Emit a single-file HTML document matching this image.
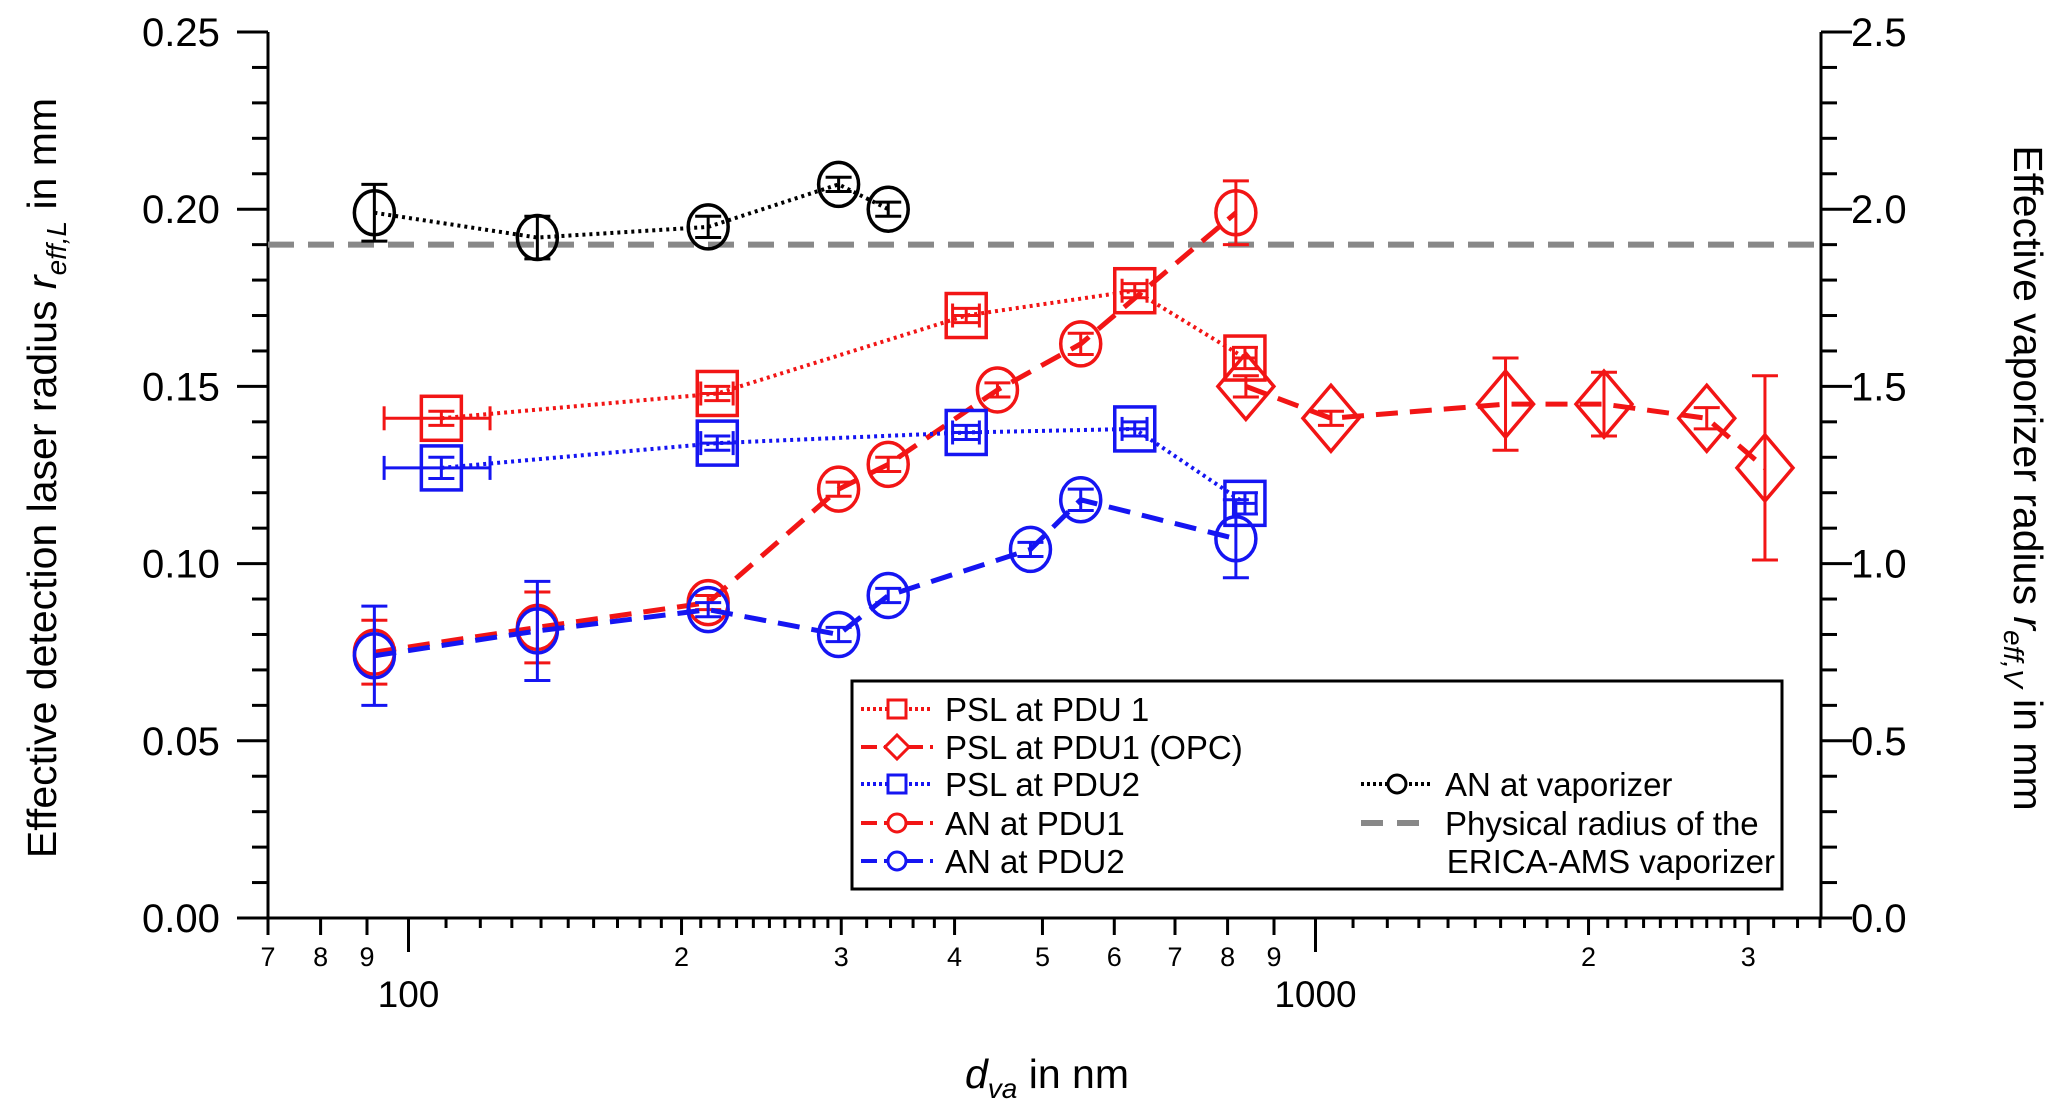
<!DOCTYPE html>
<html><head><meta charset="utf-8">
<style>
html,body{margin:0;padding:0;background:#fff;}
svg{display:block;font-family:"Liberation Sans",Arial,sans-serif;}
</style></head>
<body>
<svg id="chart" width="2067" height="1111" viewBox="0 0 2067 1111" xmlns="http://www.w3.org/2000/svg">
<g id="axes"></g>
<g id="series"></g>
<g id="legend"></g>
</svg>
<script>
// ---- data ----
const anVapX = [91.7, 138.7, 214, 298, 338];
const anVapY = [0.199, 0.192, 0.195, 0.207, 0.200];
const anVapErr = [0.008, 0.006, 0.003, 0.002, 0.002];

const psl1X = [108.7, 219, 412, 632, 836];
const psl1Y = [0.141, 0.148, 0.170, 0.177, 0.158];
const psl1Err = [0.002, 0.002, 0.002, 0.002, 0.003];
const psl1XLo = [94, 210, 398, 612, 812];
const psl1XHi = [123, 228, 426, 652, 860];

const opcX = [838, 1040, 1620, 2080, 2700, 3130];
const opcY = [0.150, 0.141, 0.145, 0.145, 0.141, 0.127];
const opcErr = [0.003, 0.002, 0.013, 0.009, 0.003, 0.026];

const psl2X = [108.7, 219, 412, 632, 836];
const psl2Y = [0.127, 0.134, 0.137, 0.138, 0.117];
const psl2Err = [0.003, 0.002, 0.002, 0.002, 0.003];
const psl2XLo = [94, 210, 398, 612, 812];
const psl2XHi = [123, 228, 426, 652, 860];

const an1X = [91.7, 138.7, 214, 298, 338, 446, 551, 817];
const an1Y = [0.075, 0.082, 0.089, 0.121, 0.128, 0.149, 0.162, 0.199];
const an1Err = [0.009, 0.010, 0.002, 0.002, 0.002, 0.002, 0.003, 0.009];

const an2X = [91.7, 138.7, 214, 298, 338, 485, 551, 817];
const an2Y = [0.074, 0.081, 0.087, 0.080, 0.091, 0.104, 0.118, 0.107];
const an2Err = [0.014, 0.014, 0.002, 0.002, 0.002, 0.002, 0.003, 0.011];

const physRadius = [0.19];
const yLeftTicks = ["0.00","0.05","0.10","0.15","0.20","0.25"];
const yRightTicks = ["0.0","0.5","1.0","1.5","2.0","2.5"];

// ---- scales ----
const X0 = 268, DEC = 907, XMIN = 70, XR = 1821;
const YT = 32, YB = 918;
function sx(v){ return X0 + DEC*Math.log10(v/XMIN); }
function sy(v){ return YB - (v/0.25)*(YB-YT); }

const NS = "http://www.w3.org/2000/svg";
function mk(parent, tag, attrs){
  const e = document.createElementNS(NS, tag);
  for (const k in attrs) e.setAttribute(k, attrs[k]);
  parent.appendChild(e); return e;
}
const axes = document.getElementById('axes');
const series = document.getElementById('series');
const legend = document.getElementById('legend');

let e;
e = mk(axes,'line',{x1:X0,y1:YT,x2:X0,y2:YB+1.5,stroke:'#000','stroke-width':3});
 
e = mk(axes,'line',{x1:XR,y1:YT,x2:XR,y2:YB+1.5,stroke:'#000','stroke-width':3});
 
e = mk(axes,'line',{x1:X0-1.5,y1:YB,x2:XR+1.5,y2:YB,stroke:'#000','stroke-width':3});
 

for (let i=0;i<=25;i++){
  const v = i*0.01, y = sy(v), major = (i%5===0);
  const L = major?31:16;
  mk(axes,'line',{x1:X0-L,y1:y,x2:X0,y2:y,stroke:'#000','stroke-width':3});
  mk(axes,'line',{x1:XR,y1:y,x2:XR+L,y2:y,stroke:'#000','stroke-width':3});
  if (major){
    e = mk(axes,'text',{x:142,y:y+14,'font-size':40,'text-anchor':'start'});
    e.textContent = yLeftTicks[i/5];
     
    e = mk(axes,'text',{x:1851,y:y+14,'font-size':40,'text-anchor':'start'});
    e.textContent = yRightTicks[i/5];
     
  }
}
function xt(v,L){ const x=sx(v); if(x<X0-1||x>XR+1) return x; mk(axes,'line',{x1:x,y1:YB,x2:x,y2:YB+L,stroke:'#000','stroke-width':3}); return x; }
[7,8,9].forEach(d=>{ const x=xt(d*10,17); e=mk(axes,'text',{x:x,y:966,'font-size':27,'text-anchor':'middle'}); e.textContent=d;   });
[100,1000].forEach(base=>{
  const x = xt(base,34);
  e=mk(axes,'text',{x:x,y:1007,'font-size':37,'text-anchor':'middle'}); e.textContent=String(base);
   
  for (let d=2; d<=9; d++){
    const xx = xt(base*d,17);
    if (xx<=XR){ e=mk(axes,'text',{x:xx,y:966,'font-size':27,'text-anchor':'middle'}); e.textContent=d;   }
  }
  for (let k=11;k<=29;k++){ if(k%10===0) continue; xt(base*k/10,10); }
  for (let k=32;k<=38;k+=2){ xt(base*k/10,10); }
});

e = mk(axes,'text',{transform:'translate(56,478) rotate(-90)','font-size':41,'text-anchor':'middle'});
e.innerHTML = 'Effective detection laser radius <tspan font-style="italic">r</tspan><tspan font-style="italic" font-size="28" dy="10">eff,L</tspan><tspan dy="-10"> in mm</tspan>';
 
e = mk(axes,'text',{transform:'translate(2014,478) rotate(90)','font-size':41,'text-anchor':'middle'});
e.innerHTML = 'Effective vaporizer radius <tspan font-style="italic">r</tspan><tspan font-style="italic" font-size="28" dy="10">eff,V</tspan><tspan dy="-10"> in mm</tspan>';
 
e = mk(axes,'text',{x:1047,y:1088,'font-size':41,'text-anchor':'middle'});
e.innerHTML = '<tspan font-style="italic">d</tspan><tspan font-style="italic" font-size="28" dy="10">va</tspan><tspan dy="-10"> in nm</tspan>';
 

e = mk(series,'line',{x1:X0,y1:sy(physRadius[0]),x2:XR,y2:sy(physRadius[0]),stroke:'#888','stroke-width':6,'stroke-dasharray':'26 14'});
 

function marker(g,type,x,y,col){
  if(type==='circle') return mk(g,'ellipse',{cx:x,cy:y,rx:20,ry:22,fill:'none',stroke:col,'stroke-width':3.5});
  if(type==='square') return mk(g,'rect',{x:x-20,y:y-22,width:40,height:44,fill:'none',stroke:col,'stroke-width':3.5});
  return mk(g,'polygon',{points:`${x},${y-33} ${x+28},${y} ${x},${y+33} ${x-28},${y}`,fill:'none',stroke:col,'stroke-width':3.5});
}
function drawSeries(name,X,Y,Err,col,dash,type,xlo,xhi){
  const g = mk(series,'g',{});
   
  const pts = X.map((v,i)=>sx(v)+','+sy(Y[i])).join(' ');
  const ln = mk(g,'polyline',{points:pts,fill:'none',stroke:col,'stroke-width':dash==='dot'?4:5,'stroke-dasharray':dash==='dot'?'3 4':'22 12'});
   
  X.forEach((v,i)=>{
    const x=sx(v), y=sy(Y[i]), y1=sy(Y[i]+Err[i]), y2=sy(Y[i]-Err[i]);
    mk(g,'line',{x1:x,y1:y1,x2:x,y2:y2,stroke:col,'stroke-width':3});
    mk(g,'line',{x1:x-13,y1:y1,x2:x+13,y2:y1,stroke:col,'stroke-width':3});
    mk(g,'line',{x1:x-13,y1:y2,x2:x+13,y2:y2,stroke:col,'stroke-width':3});
    if(xlo){
      const a=sx(xlo[i]), b=sx(xhi[i]);
      mk(g,'line',{x1:a,y1:y,x2:b,y2:y,stroke:col,'stroke-width':3});
      mk(g,'line',{x1:a,y1:y-12,x2:a,y2:y+12,stroke:col,'stroke-width':3});
      mk(g,'line',{x1:b,y1:y-12,x2:b,y2:y+12,stroke:col,'stroke-width':3});
    }
    const m = marker(g,type,x,y,col);
     
  });
}
const RED='#f21515', BLUE='#1515f2';
drawSeries('an-pdu1',an1X,an1Y,an1Err,RED,'dash','circle');
drawSeries('an-pdu2',an2X,an2Y,an2Err,BLUE,'dash','circle');
drawSeries('psl-pdu1',psl1X,psl1Y,psl1Err,RED,'dot','square',psl1XLo,psl1XHi);
drawSeries('psl-pdu2',psl2X,psl2Y,psl2Err,BLUE,'dot','square',psl2XLo,psl2XHi);
drawSeries('psl-pdu1-opc',opcX,opcY,opcErr,RED,'dash','diamond');
drawSeries('an-vaporizer',anVapX,anVapY,anVapErr,'#000','dot','circle');

e = mk(legend,'rect',{x:852,y:681,width:930,height:208,fill:'#fff',stroke:'#000','stroke-width':3});
 
function legEntry(name,x0,y,label,col,dash,type){
  const g = mk(legend,'g',{});
   
  if(dash==='solidgray'){
    mk(g,'line',{x1:x0,y1:y,x2:x0+72,y2:y,stroke:'#888','stroke-width':6,'stroke-dasharray':'22 14'});
  } else {
    mk(g,'line',{x1:x0,y1:y,x2:x0+72,y2:y,stroke:col,'stroke-width':4,'stroke-dasharray':dash==='dot'?'3 3':'16 7'});
    const cx=x0+36;
    if(type==='circle') mk(g,'circle',{cx:cx,cy:y,r:9,fill:'#fff',stroke:col,'stroke-width':3});
    else if(type==='square') mk(g,'rect',{x:cx-9,y:y-9,width:18,height:18,fill:'#fff',stroke:col,'stroke-width':3});
    else mk(g,'polygon',{points:`${cx},${y-12} ${cx+12},${y} ${cx},${y+12} ${cx-12},${y}`,fill:'#fff',stroke:col,'stroke-width':3});
  }
  const t = mk(g,'text',{x:x0+84,y:y+12,'font-size':33});
  t.textContent = label;
}
legEntry('legend-psl-pdu1',861,709,'PSL at PDU 1',RED,'dot','square');
legEntry('legend-psl-pdu1-opc',861,747,'PSL at PDU1 (OPC)',RED,'dash','diamond');
legEntry('legend-psl-pdu2',861,784,'PSL at PDU2',BLUE,'dot','square');
legEntry('legend-an-pdu1',861,823,'AN at PDU1',RED,'dash','circle');
legEntry('legend-an-pdu2',861,861,'AN at PDU2',BLUE,'dash','circle');
legEntry('legend-an-vaporizer',1361,784,'AN at vaporizer','#000','dot','circle');
legEntry('legend-physical-radius',1361,823,'Physical radius of the','#888','solidgray','none');
e = mk(legend,'text',{x:1775,y:873,'font-size':33,'text-anchor':'end'});
e.textContent = 'ERICA-AMS vaporizer';
 
</script>
</body></html>
